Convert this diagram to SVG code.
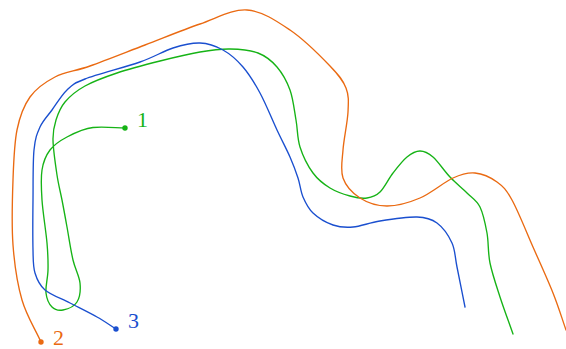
<svg xmlns="http://www.w3.org/2000/svg" width="566" height="349" viewBox="0 0 566 349">
<style>
.c{fill:none;stroke-width:1.35;stroke-linecap:round;stroke-linejoin:round}
.lbl{font-family:"Liberation Serif","Times New Roman",serif;font-size:22px}
.g{stroke:#16b316}.gf{fill:#16b316}
.o{stroke:#ea6a12}.of{fill:#ea6a12}
.b{stroke:#1a4fcf}.bf{fill:#1a4fcf}
</style>
<rect width="566" height="349" fill="#ffffff"/>
<g id="connectors">
<path id="curve-green" class="c g" d="M125,128 C114.3,127.7 102.7,126.5 93,127.5 S74.2,133.2 67,137 S54.2,144.5 50,150 S43.3,161.7 42,170 S41.2,187.8 42,200 S46,231.3 47,243 S48.2,261.7 48,270 S45.3,286.8 46,293 S49.2,304.2 52,307 S58.8,310.8 63,310 S74.2,306.5 77,302 S80.7,290 80,283 S75.2,269.3 73,260 S68.8,237 67,227 S63.7,208.7 62,200 S58.5,185 57,175 S53.2,149.2 53,140 S54,126.3 56,120 S60.2,107.7 65,102 S76.3,90.8 85,86 S104.5,77.2 117,73 S146.2,64.5 160,61 S188.3,54 200,52 S220.3,48.8 230,49 S250.2,50 258,53 S271.7,60.8 277,67 S286.8,81.2 290,90 S294.3,110.5 296,120 S297.2,138.2 300,147 S308,166.2 313,173 S323.8,184.2 330,188 S343.8,194.3 350,196 S362,198.7 367,198 S375.7,196.2 380,192 S388.5,178.8 393,173 S402.5,160.7 407,157 S415.7,151 420,151 S428,152.7 433,157 S444.3,171 450,177 S462,188 467,193 S476.7,200.3 480,207 S485.3,223.7 487,233 S487.8,252.3 490,263 S496.2,285.2 500,297 S508.7,321.7 513,334"/>
<path id="curve-orange" class="c o" d="M41,342 C34.7,328 26.7,316.2 22,300 S14.5,265 13,245 S12.3,199.2 13,180 S14.2,143.8 17,130 S23.7,105.8 30,97 S45,82.2 55,77 S75,71.3 90,66 S126.7,52 145,45 S183,29.8 200,24 S232,9 247,10 S276.2,20.7 290,30 S320.7,56.3 330,66 S343,80.3 346,88 S348.5,101.7 348,112 S343.8,139 343,150 S340.2,170 343,178 S352.7,193.3 360,198 S377,206 387,206 S409,202.7 420,198 S443.8,182.2 453,178 S467.7,172.3 475,173 S490.8,177.5 497,182 S506,189.2 512,200 S526.2,231.5 533,247 S547.5,279.2 553,293 S561.7,317.7 566,330"/>
<path id="curve-blue" class="c b" d="M116,329 C109.7,325 104.7,321.3 97,317 S78.7,307.5 70,303 S50.8,295 45,290 S37,279.7 35,273 S33.3,262.2 33,250 S32.8,216.7 33,200 S32.8,162.2 34,150 S37,133.7 40,127 S47.5,116.2 52,110 S61.5,95.2 67,90 S72.8,83.7 85,79 S125.3,67.2 140,62 S163,51.2 173,48 S191.7,42.7 200,43 S215.8,46 223,50 S236.8,59.8 243,67 S254.3,82.5 260,93 S272,119.3 277,130 S286.5,149 290,157 S295.8,171.3 298,178 S300.5,191.2 303,197 S308,208.3 313,213 S326.3,222.7 333,225 S345.2,227.7 353,227 S369.3,222.7 380,221 S407.5,216.7 417,217 S431.2,218.7 437,223 S448.7,235.7 452,243 S454.8,256.3 457,267 S462.3,293.7 465,307"/>
</g>
<g id="node-1">
<circle class="gf" cx="125" cy="128" r="2.7"/>
<text class="lbl gf" x="137" y="127">1</text>
</g>
<g id="node-2">
<circle class="of" cx="41" cy="342" r="2.7"/>
<text class="lbl of" x="53" y="345">2</text>
</g>
<g id="node-3">
<circle class="bf" cx="116" cy="329" r="2.7"/>
<text class="lbl bf" x="128" y="328">3</text>
</g>
</svg>
